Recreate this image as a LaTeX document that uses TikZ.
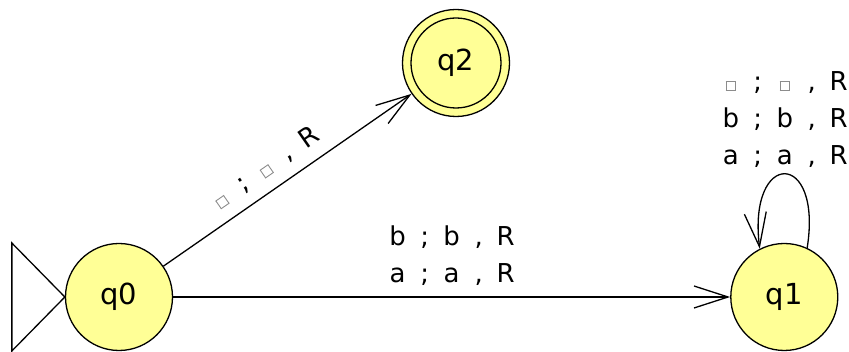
\documentclass[tikz,border=0pt]{standalone}
\usepackage{fontspec}
\setmainfont{DejaVu Sans}
\usetikzlibrary{arrows.meta, positioning}
\definecolor{statefill}{RGB}{255, 255, 150}
\definecolor{blankgray}{RGB}{140, 140, 140}
\newcommand{\blanksym}{{\color{blankgray}\setlength{\fboxsep}{0pt}\setlength{\fboxrule}{0.9pt}\fbox{\rule{0pt}{8.5pt}\hspace{8.5pt}}}}
\newcommand{\trans}[3]{\makebox[27pt]{#1}\makebox[27pt]{;}\makebox[27pt]{#2}\makebox[27pt]{,}\makebox[27pt]{#3}}
\tikzstyle{state} = [circle, draw=black, fill=statefill, line width=1.3pt, minimum size=107pt, inner sep=0pt, font=\fontsize{29}{29}\selectfont]
\tikzstyle{accepting} = [path picture={\draw[line width=1.3pt] (path picture bounding box.center) circle (45pt);}]
\tikzstyle{line} = [draw, -{Straight Barb[length=34pt, width=22pt]}, line width=1.3pt]
\tikzstyle{edgelabel} = [inner sep=2pt, align=center, font=\fontsize{26}{37}\selectfont]
\begin{document}
\begin{tikzpicture}[x=1pt, y=1pt]
    \useasboundingbox (0,0) rectangle (849,352);
    % States
    \node (q0) [state] at (119,55) {q0};
    \node (q1) [state, right=557pt of q0] {q1};
    \node (q2) [state, accepting] at (456,289) {q2};

    % Start marker
    \draw [line width=1.3pt] (q0.west) -- ++(-53,54) -- ++(0,-108) -- cycle;

    % Transitions
    \draw [line] (q0) -- node[edgelabel, midway, above=9pt] {\trans{b}{b}{R}\\\trans{a}{a}{R}} (q1);
    \draw [line] (q0) -- node[edgelabel, pos=0.46, sloped, above=9pt] {\trans{\blanksym}{\blanksym}{R}} (q2);
    \draw [line] (q1.65) .. controls +(81:100) and +(97:100) .. node[edgelabel, midway, above=4pt] {\trans{\blanksym}{\blanksym}{R}\\\trans{b}{b}{R}\\\trans{a}{a}{R}} (q1.117);
\end{tikzpicture}
\end{document}
